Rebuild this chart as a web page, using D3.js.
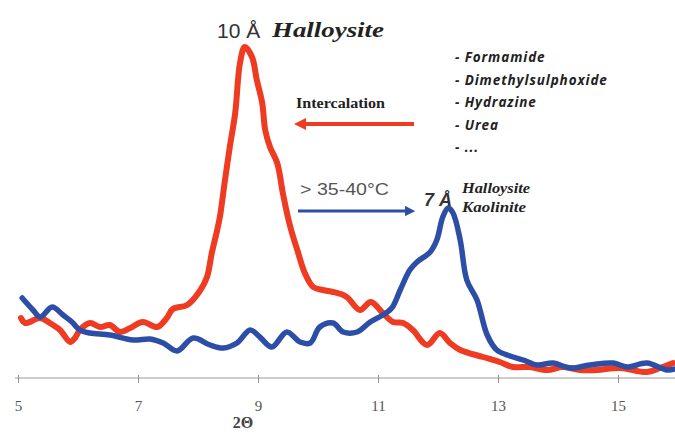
<!DOCTYPE html>
<html>
<head>
<meta charset="utf-8">
<script src="https://cdn.jsdelivr.net/npm/d3@7"></script>
<style>
  body { margin: 0; background: #fff; }
  svg { display: block; }
</style>
</head>
<body>
<div id="chart"></div>
<script>
// x-ray diffraction traces, 2theta vs intensity
let red_x = [5.05, 5.12, 5.37, 5.53, 5.70, 5.87, 5.95, 6.03, 6.20, 6.37, 6.53, 6.70, 6.87, 7.08, 7.32, 7.48, 7.58, 7.82, 8.03, 8.15, 8.23, 8.32, 8.37, 8.45, 8.53, 8.62, 8.70, 8.78, 8.90, 8.98, 9.07, 9.12, 9.20, 9.32, 9.42, 9.53, 9.67, 9.78, 9.92, 10.08, 10.25, 10.42, 10.50, 10.70, 10.88, 11.08, 11.25, 11.42, 11.58, 11.82, 12.03, 12.20, 12.37, 12.75, 13.03, 13.25, 13.53, 13.82, 14.08, 14.37, 14.65, 15.03, 15.48, 15.70, 15.92];
let red_y = [60, 55, 60, 55, 48, 36, 40, 48, 55, 51, 53, 46, 50, 56, 51, 60, 69, 73, 87, 101, 125, 148, 163, 198, 231, 265, 315, 331, 321, 298, 275, 248, 231, 215, 183, 153, 125, 105, 91, 88, 86, 83, 80, 68, 76, 65, 56, 55, 48, 33, 45, 35, 28, 21, 16, 11, 11, 8, 11, 8, 8, 10, 6, 10, 15];

let blue_x = [5.07, 5.25, 5.37, 5.57, 5.75, 5.90, 6.03, 6.20, 6.53, 6.92, 7.20, 7.42, 7.65, 7.92, 8.20, 8.42, 8.65, 8.87, 9.03, 9.23, 9.48, 9.70, 9.87, 10.03, 10.25, 10.42, 10.65, 10.87, 11.08, 11.23, 11.37, 11.53, 11.65, 11.87, 11.98, 12.08, 12.17, 12.25, 12.37, 12.48, 12.65, 12.82, 12.98, 13.20, 13.42, 13.65, 13.92, 14.20, 14.53, 14.92, 15.15, 15.48, 15.82, 15.95];
let blue_y = [80, 68, 61, 71, 63, 56, 48, 45, 43, 38, 39, 35, 27, 40, 33, 30, 35, 48, 41, 31, 46, 36, 35, 51, 55, 46, 46, 56, 63, 70, 88, 108, 116, 126, 138, 161, 170, 165, 138, 98, 78, 43, 28, 22, 18, 13, 15, 10, 13, 15, 11, 15, 8, 9];

let tick_values = [5, 7, 9, 11, 13, 15];
let solvents = ["- Formamide", "- Dimethylsulphoxide", "- Hydrazine", "- Urea", "- ..."];

let width = 675;
let height = 433;

let svg = d3.select("#chart").append("svg")
    .attr("width", width)
    .attr("height", height);

let x = d3.scaleLinear()
    .domain([5, 16])
    .range([18, 678]);

let y = d3.scaleLinear()
    .domain([0, 340])
    .range([378, 38]);

//axis
let axis = svg.append("g")
    .attr("transform", "translate(0, 378)")
    .call(d3.axisBottom(x).tickValues(tick_values).tickSize(5).tickPadding(17).tickFormat(d3.format("d")));
axis.select(".domain").attr("stroke", "#bbb").attr("stroke-width", 1.5).attr("d", "M15,0H675");
axis.selectAll(".tick line").attr("stroke", "#999").attr("y1", -3);
axis.selectAll(".tick text")
    .attr("fill", "#555")
    .style("font-family", "'Liberation Serif', 'Times New Roman', serif")
    .style("font-size", "15px");

svg.append("text")
    .attr("x", 243)
    .attr("y", 428)
    .attr("text-anchor", "middle")
    .attr("fill", "#444")
    .style("font-family", "'Liberation Serif', serif")
    .style("font-size", "16px")
    .style("font-weight", "bold")
    .text("2Θ");

//lines
let line = d3.line()
    .x(d => x(d[0]))
    .y(d => y(d[1]))
    .curve(d3.curveCatmullRom);

svg.append("path")
    .datum(d3.zip(red_x, red_y))
    .attr("fill", "none")
    .attr("stroke", "#ee3b22")
    .attr("stroke-width", 6)
    .attr("stroke-linejoin", "round")
    .attr("stroke-linecap", "round")
    .attr("d", line);

svg.append("path")
    .datum(d3.zip(blue_x, blue_y))
    .attr("fill", "none")
    .attr("stroke", "#2c4ea6")
    .attr("stroke-width", 5.5)
    .attr("stroke-linejoin", "round")
    .attr("stroke-linecap", "round")
    .attr("d", line);

//arrows
let defs = svg.append("defs");
defs.append("marker")
    .attr("id", "head-red")
    .attr("viewBox", "0 0 10 10")
    .attr("refX", 5).attr("refY", 5)
    .attr("markerWidth", 3).attr("markerHeight", 3)
    .attr("orient", "auto")
    .append("path").attr("d", "M0,0L10,5L0,10z").attr("fill", "#ee3b22");
defs.append("marker")
    .attr("id", "head-blue")
    .attr("viewBox", "0 0 10 10")
    .attr("refX", 5).attr("refY", 5)
    .attr("markerWidth", 3.5).attr("markerHeight", 3.5)
    .attr("orient", "auto")
    .append("path").attr("d", "M0,0L10,5L0,10z").attr("fill", "#2c4ea6");

svg.append("line")
    .attr("x1", 414).attr("y1", 124).attr("x2", 300).attr("y2", 124)
    .attr("stroke", "#ee3b22").attr("stroke-width", 4)
    .attr("marker-end", "url(#head-red)");

svg.append("line")
    .attr("x1", 298).attr("y1", 211).attr("x2", 410).attr("y2", 211)
    .attr("stroke", "#2c4ea6").attr("stroke-width", 3)
    .attr("marker-end", "url(#head-blue)");

//labels
let serif = "'Liberation Serif', 'Times New Roman', serif";
let sans = "'Liberation Sans', Arial, sans-serif";

svg.append("text")
    .attr("x", 217).attr("y", 38)
    .attr("fill", "#333")
    .style("font-family", sans).style("font-size", "21px")
    .text("10 Å");
svg.append("text")
    .attr("x", 272).attr("y", 37)
    .attr("fill", "#222")
    .attr("textLength", 112)
    .attr("lengthAdjust", "spacingAndGlyphs")
    .style("font-family", serif).style("font-size", "20px")
    .style("font-weight", "bold").style("font-style", "italic")
    .text("Halloysite");

svg.append("text")
    .attr("x", 296).attr("y", 108)
    .attr("fill", "#222")
    .attr("textLength", 89)
    .attr("lengthAdjust", "spacingAndGlyphs")
    .style("font-family", serif).style("font-size", "15px")
    .style("font-weight", "bold")
    .text("Intercalation");

svg.append("text")
    .attr("x", 300).attr("y", 195)
    .attr("fill", "#555")
    .attr("textLength", 89)
    .attr("lengthAdjust", "spacingAndGlyphs")
    .style("font-family", sans).style("font-size", "16px")
    .text("> 35-40°C");

svg.append("text")
    .attr("x", 424).attr("y", 206)
    .attr("fill", "#333")
    .style("font-family", sans).style("font-size", "18px")
    .style("font-weight", "bold").style("font-style", "italic")
    .text("7 Å");
svg.selectAll(".kind")
    .data(["Halloysite", "Kaolinite"])
    .join("text")
    .attr("class", "kind")
    .attr("x", 462)
    .attr("y", (d, i) => 193 + i * 19)
    .attr("fill", "#222")
    .attr("textLength", (d, i) => i == 0 ? 68 : 64)
    .attr("lengthAdjust", "spacingAndGlyphs")
    .style("font-family", serif).style("font-size", "14px")
    .style("font-weight", "bold").style("font-style", "italic")
    .text(d => d);

svg.selectAll(".solvent")
    .data(solvents)
    .join("text")
    .attr("class", "solvent")
    .attr("x", 455)
    .attr("y", (d, i) => 62 + i * 22.5)
    .attr("fill", "#222")
    .style("font-family", "'Open Sans', sans-serif").style("font-size", "13.5px")
    .style("letter-spacing", "0.9px")
    .style("font-weight", "bold").style("font-style", "italic")
    .text(d => d);
</script>
</body>
</html>
